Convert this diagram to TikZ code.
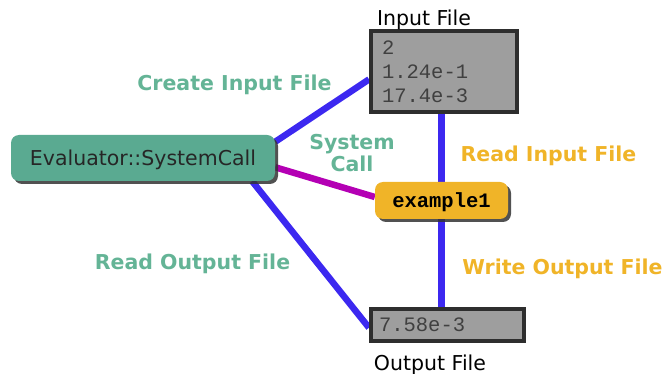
\documentclass[tikz,border=0pt]{standalone}
\usepackage{fontspec}
\setmainfont{DejaVu Sans}
\newfontfamily\codefont{Liberation Mono}
\usetikzlibrary{shadows, backgrounds}

\definecolor{evalgreen}{HTML}{5AAA91}
\definecolor{tealtext}{HTML}{64B496}
\definecolor{progorange}{HTML}{F0B428}
\definecolor{pipeblue}{HTML}{3C28F0}
\definecolor{callpurple}{HTML}{B400B4}
\definecolor{filegray}{HTML}{9E9E9E}

\newcommand{\bigtext}{\fontsize{20.5}{24}\selectfont}

\begin{document}
\begin{tikzpicture}[x=1pt, y=-1pt,
    filebox/.style={draw=black!82, line width=4pt, fill=filegray, align=left,
        font=\codefont\bigtext, text=black!75},
    prognode/.style={rounded corners=8pt, text depth=0pt,
        drop shadow={shadow xshift=3pt, shadow yshift=-3pt, fill=black!80, opacity=0.85}},
    greenlabel/.style={font=\fontsize{20.5}{22}\selectfont\bfseries, text=tealtext, align=center},
    orangelabel/.style={font=\bigtext\bfseries, text=progorange},
    pipe/.style={line width=6.5pt, pipeblue}
]
    \useasboundingbox (0,0) rectangle (665,374);

    % files and programs
    \node[filebox, minimum width=146, minimum height=81, inner xsep=11pt, text width=124pt] (infile) at (444,71.5)
        {2\\1.24e-1\\17.4e-3};
    \node[filebox, minimum width=153, minimum height=32, inner xsep=8pt, text width=137pt] (outfile) at (447.5,325)
        {7.58e-3};
    \node[prognode, fill=evalgreen, minimum width=264, minimum height=46, font=\bigtext, text=black!85] (eval) at (143,158)
        {Evaluator::SystemCall};
    \node[prognode, fill=progorange, minimum width=133, minimum height=37, font=\codefont\bigtext\bfseries] (ex) at (441.5,200.5)
        {example1};

    \node[font=\bigtext] (intitle) at (424,19.6) {Input File};
    \node[font=\bigtext] (outtitle) at (430,364.6) {Output File};

    % labels
    \node[greenlabel] (createlbl) at (234.5,85) {Create Input File};
    \node[greenlabel] (calllbl) at (352,153) {System\\Call};
    \node[greenlabel] (readoutlbl) at (192.5,264) {Read Output File};
    \node[orangelabel] (readinlbl) at (548.5,156) {Read Input File};
    \node[orangelabel] (writelbl) at (562.5,269) {Write Output File};

    % connectors
    \begin{scope}[on background layer]
        \draw[pipe] (eval.7.6) -- (infile.186);
        \draw[line width=6.5pt, callpurple] (eval.-4) -- (ex.177);
        \draw[pipe] (eval.-12) -- (outfile.182);
        \draw[pipe] (ex.north |- infile.south) -- (ex.north);
        \draw[pipe] (ex.south) -- (ex.south |- outfile.north);
    \end{scope}
\end{tikzpicture}
\end{document}
